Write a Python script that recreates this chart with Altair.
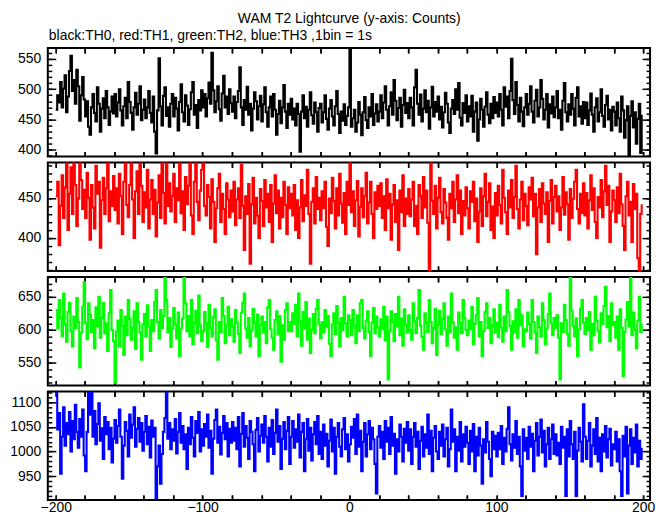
import math
import altair as alt
import pandas as pd

T_START = -200

# TH0 counts per 1 s bin, t = -200 ... 199
th0 = [
    466, 490, 478, 512, 470, 501, 523, 462, 488, 530, 555, 497, 515, 476, 532, 505, 448, 490, 520, 483,
    455, 480, 438, 425, 470, 492, 461, 447, 503, 476, 430, 468, 485, 452, 497, 470, 441, 463, 488, 460,
    492, 455, 478, 500, 465, 440, 472, 486, 452, 512, 479, 461, 433, 470, 494, 458, 476, 505, 449, 466,
    483, 452, 470, 497, 461, 445, 488, 430, 394, 465, 551, 472, 440, 489, 503, 456, 470, 438, 476, 492,
    455, 486, 468, 432, 479, 508, 462, 447, 490, 473, 441, 467, 495, 512, 458, 474, 436, 482, 465, 498,
    470, 492, 455, 485, 511, 476, 560, 498, 462, 480, 505, 467, 448, 493, 522, 470, 488, 459, 500, 477,
    463, 488, 452, 479, 497, 536, 470, 441, 482, 466, 504, 458, 476, 432, 468, 495, 480, 450, 472, 489,
    447, 475, 503, 462, 438, 470, 488, 455, 492, 466, 425, 459, 481, 444, 470, 507, 463, 436, 476, 458,
    484, 450, 468, 440, 476, 459, 397, 463, 490, 452, 471, 438, 466, 495, 457, 443, 478, 462, 430, 469,
    476, 445, 462, 490, 451, 433, 468, 482, 455, 440, 472, 497, 459, 428, 463, 448, 475, 441, 456, 470,
    700, 438, 452, 466, 430, 445, 479, 458, 424, 462, 487, 449, 436, 470, 455, 492, 441, 460, 475, 447,
    463, 490, 452, 478, 505, 466, 440, 472, 495, 458, 515, 481, 449, 469, 486, 438, 474, 499, 461, 477,
    452, 486, 470, 440, 503, 532, 476, 458, 491, 447, 468, 498, 462, 481, 435, 470, 504, 455, 479, 463,
    488, 450, 471, 437, 462, 494, 476, 445, 428, 468, 482, 459, 500, 466, 510, 453, 440, 477, 461, 490,
    447, 472, 455, 489, 430, 463, 478, 415, 450, 484, 466, 438, 471, 495, 458, 444, 476, 452, 487, 461,
    478, 455, 492, 466, 440, 503, 471, 488, 452, 497, 550, 482, 459, 512, 474, 447, 486, 463, 439, 470,
    492, 458, 476, 505, 463, 445, 481, 499, 455, 470, 515, 484, 450, 466, 492, 437, 475, 460, 488, 454,
    470, 497, 452, 466, 433, 481, 510, 462, 447, 475, 458, 492, 468, 440, 486, 503, 455, 472, 443, 479,
    452, 478, 441, 465, 493, 458, 430, 470, 485, 447, 462, 500, 456, 438, 474, 489, 450, 466, 432, 471,
    463, 440, 478, 452, 430, 488, 465, 420, 449, 472, 388, 456, 480, 437, 462, 410, 451, 476, 395, 458,
]

# TH1
th1 = [
    452, 470, 391, 440, 478, 425, 463, 494, 410, 455, 488, 430, 494, 466, 415, 449, 494, 472, 436, 460,
    425, 481, 450, 398, 466, 438, 412, 490, 455, 470, 388, 447, 475, 430, 462, 494, 421, 458, 440, 477,
    435, 462, 418, 480, 452, 405, 470, 494, 441, 426, 466, 494, 448, 400, 458, 483, 430, 494, 465, 420,
    457, 438, 485, 412, 448, 472, 430, 460, 402, 444, 478, 425, 494, 456, 418, 494, 440, 468, 433, 452,
    480, 420, 462, 447, 494, 431, 458, 410, 476, 442, 465, 494, 428, 405, 470, 494, 445, 422, 459, 485,
    494, 440, 428, 466, 451, 412, 473, 445, 395, 437, 462, 480, 420, 455, 436, 405, 468, 448, 426, 459,
    433, 470, 416, 448, 462, 425, 491, 440, 385, 452, 430, 467, 368, 442, 475, 418, 450, 428, 400, 461,
    446, 415, 472, 438, 455, 420, 466, 395, 443, 478, 431, 459, 412, 450, 426, 470, 441, 405, 463, 437,
    455, 428, 466, 410, 447, 400, 438, 472, 421, 453, 440, 485, 430, 368, 445, 462, 418, 476, 436, 450,
    422, 458, 437, 470, 414, 390, 449, 431, 475, 446, 412, 462, 428, 480, 443, 419, 456, 405, 470, 441,
    494, 432, 458, 415, 447, 471, 402, 439, 462, 426, 452, 481, 418, 444, 470, 430, 400, 457, 436, 465,
    440, 468, 425, 452, 410, 473, 437, 455, 398, 442, 466, 420, 447, 385, 459, 432, 478, 415, 449, 430,
    461, 427, 448, 470, 415, 440, 405, 466, 452, 425, 476, 438, 459, 419, 359, 494, 446, 430, 465, 412,
    450, 475, 432, 418, 461, 444, 425, 398, 455, 437, 470, 420, 448, 478, 431, 459, 405, 446, 428, 463,
    437, 412, 458, 445, 470, 421, 449, 395, 433, 462, 415, 452, 480, 427, 445, 468, 410, 439, 400, 456,
    428, 465, 441, 418, 485, 450, 432, 405, 459, 438, 472, 425, 451, 490, 436, 412, 448, 470, 422, 455,
    440, 416, 463, 448, 475, 427, 455, 380, 438, 461, 420, 468, 443, 430, 457, 395, 446, 472, 418, 451,
    465, 433, 452, 410, 438, 476, 429, 457, 442, 398, 461, 425, 449, 470, 485, 436, 418, 455, 431, 468,
    428, 456, 412, 447, 478, 435, 462, 420, 400, 451, 438, 472, 426, 458, 490, 441, 465, 395, 433, 459,
    447, 420, 463, 431, 480, 442, 415, 385, 452, 470, 428, 445, 395, 467, 436, 455, 375, 359, 430, 442,
]

# TH2
th2 = [
    630, 602, 645, 618, 590, 655, 608, 582, 627, 641, 598, 575, 620, 603, 648, 612, 543, 596, 635, 672,
    610, 586, 640, 623, 597, 615, 572, 634, 605, 650, 588, 618, 641, 595, 610, 568, 625, 660, 600, 583,
    520, 598, 614, 575, 630, 606, 562, 620, 592, 645, 617, 585, 603, 628, 571, 640, 612, 596, 555, 608,
    624, 590, 637, 605, 568, 615, 598, 642, 660, 612, 587, 630, 603, 621, 680, 645, 596, 618, 574, 602,
    633, 608, 587, 626, 560, 602, 617, 680, 640, 598, 621, 590, 645, 578, 611, 629, 595, 652, 606, 583,
    598, 627, 610, 574, 638, 603, 590, 619, 631, 584, 555, 612, 596, 648, 621, 580, 607, 635, 592, 616,
    605, 582, 630, 611, 594, 565, 626, 641, 655, 602, 588, 618, 575, 599, 632, 610, 590, 623, 560, 607,
    620, 596, 612, 580, 634, 645, 601, 588, 570, 615, 628, 593, 621, 552, 607, 585, 630, 640, 598, 612,
    598, 625, 609, 638, 590, 655, 613, 576, 627, 602, 642, 585, 617, 565, 600, 624, 595, 632, 645, 608,
    587, 612, 596, 630, 604, 621, 579, 560, 608, 625, 594, 636, 611, 575, 618, 599, 650, 610, 590, 622,
    615, 592, 630, 606, 580, 622, 598, 640, 645, 603, 587, 614, 628, 597, 560, 611, 633, 595, 620, 604,
    590, 616, 601, 635, 584, 620, 525, 598, 628, 612, 583, 624, 605, 650, 592, 617, 576, 631, 608, 596,
    622, 600, 585, 640, 613, 595, 618, 660, 606, 589, 570, 625, 610, 597, 645, 612, 580, 603, 632, 562,
    608, 629, 594, 616, 640, 601, 576, 620, 597, 655, 612, 588, 604, 570, 626, 611, 595, 645, 618, 600,
    592, 614, 601, 635, 578, 609, 622, 648, 590, 612, 560, 598, 627, 640, 603, 618, 580, 606, 631, 596,
    611, 589, 638, 604, 582, 620, 598, 660, 627, 606, 570, 613, 596, 631, 588, 645, 607, 622, 575, 601,
    598, 626, 609, 587, 645, 612, 596, 565, 620, 604, 590, 640, 615, 578, 602, 624, 655, 610, 592, 618,
    603, 622, 588, 525, 610, 597, 638, 615, 594, 576, 680, 629, 606, 590, 617, 560, 601, 632, 645, 611,
    594, 618, 600, 627, 570, 609, 592, 650, 614, 598, 581, 625, 609, 636, 665, 604, 621, 583, 640, 607,
    612, 588, 620, 570, 631, 603, 530, 597, 616, 642, 605, 680, 592, 626, 600, 572, 614, 650, 597, 610,
]

# TH3
th3 = [
    1120, 1045, 1078, 955, 1030, 1090, 1012, 1058, 1035, 1080, 1000, 1062, 1025, 1095, 1040, 1008, 1066, 1030, 1085, 992,
    960, 1040, 1120, 1075, 1120, 1030, 1082, 1015, 1056, 1098, 1022, 1047, 985, 1070, 1035, 1060, 1005, 1048, 978, 1026,
    1064, 1018, 1052, 1085, 1030, 945, 1012, 1060, 1042, 990, 1075, 1028, 1055, 1090, 1010, 1046, 1068, 1020, 1058, 1002,
    1040, 1072, 1015, 1050, 988, 1063, 1030, 1048, 905, 970, 1012, 935, 995, 1040, 1068, 1120, 1026, 1058, 1005, 1045,
    1022, 1066, 996, 1040, 1078, 1018, 1052, 1005, 1035, 965, 1048, 1015, 1070, 1028, 990, 1062, 1038, 1080, 1000, 1045,
    1012, 1056, 1030, 1075, 1008, 1042, 955, 1026, 1064, 1085, 1018, 1050, 994, 1038, 1072, 1025, 1058, 990, 1046, 1018,
    1060, 1022, 1048, 1005, 1070, 970, 1036, 1078, 1010, 1052, 1028, 985, 1062, 1040, 1015, 960, 1044, 1068, 1000, 1032,
    1055, 1018, 1072, 1030, 980, 1048, 1010, 1064, 995, 1038, 1085, 1020, 1052, 965, 1026, 1060, 1005, 1042, 1070, 975,
    1030, 1062, 1008, 1045, 1020, 1075, 988, 1040, 1058, 960, 1025, 1066, 1002, 1048, 982, 1035, 1060, 1015, 1072, 995,
    1040, 985, 1055, 1012, 1036, 970, 1022, 1065, 1000, 1048, 955, 1030, 1058, 1010, 990, 1045, 1068, 1005, 1035, 980,
    1015, 1050, 1028, 1066, 995, 1075, 1010, 1042, 960, 1020, 1058, 990, 1035, 1062, 1005, 1048, 1025, 975, 915, 1030,
    1052, 1008, 1040, 985, 1062, 1020, 1048, 995, 1070, 1012, 1036, 955, 1025, 1000, 1055, 1030, 980, 1046, 1018, 1060,
    1002, 1045, 975, 1030, 1058, 1010, 1040, 965, 1022, 1050, 990, 1035, 1008, 1075, 995, 1042, 960, 1028, 1052, 1000,
    985, 1040, 1012, 1055, 990, 1025, 1048, 970, 1005, 1085, 1020, 1045, 960, 1030, 1002, 1060, 980, 1035, 1010, 1050,
    1018, 975, 1042, 1000, 1056, 960, 1030, 992, 1048, 1012, 935, 1025, 998, 1060, 1020, 985, 950, 1040, 1005, 1032,
    990, 1038, 1005, 1052, 975, 1028, 1000, 1046, 1090, 1015, 982, 1035, 1008, 1062, 995, 1030, 970, 910, 1045, 1002,
    1028, 985, 1050, 1010, 1036, 960, 1022, 1058, 992, 1030, 1065, 998, 1042, 970, 1015, 1048, 985, 1025, 1055, 995,
    1035, 992, 1018, 975, 1050, 1008, 1030, 910, 1045, 990, 1062, 1015, 985, 1040, 910, 1002, 1048, 1020, 980, 1096,
    1030, 985, 1022, 1058, 970, 1012, 1045, 995, 1068, 980, 1028, 960, 1035, 1000, 1052, 988, 1025, 1046, 972, 1015,
    1005, 1040, 980, 1025, 960, 910, 1032, 990, 1050, 915, 1012, 1045, 975, 1028, 998, 1055, 970, 1022, 985, 1008,
]

MAIN_TITLE = "WAM T2 Lightcurve (y-axis: Counts)"
SUB_TITLE = "black:TH0, red:TH1, green:TH2, blue:TH3 ,1bin = 1s"

X_DOMAIN = [-205.4, 204.7]
X_LABELS = [-200, -100, 0, 100, 200]
X_TICKS = list(range(-200, 201, 20))

panel_colors = ["#000000", "#ff0000", "#00ff00", "#0000ff"]
panel_series = [th0, th1, th2, th3]
panel_domains = [[389, 568], [359, 494], [516, 680], [902, 1122]]
panel_major = [[400, 450, 500, 550], [400, 450], [550, 600, 650], [950, 1000, 1050, 1100]]

FONT = "Liberation Sans"
PANEL_W = 605
PANEL_H = 109


def make_panel(vals, color, ydom, ymajor, first, last):
    df = pd.DataFrame({"t": list(range(T_START, T_START + len(vals))), "c": vals})
    xs = alt.Scale(domain=X_DOMAIN, nice=False, zero=False)
    ys = alt.Scale(domain=ydom, nice=False, zero=False)
    yminor = list(range(int(math.ceil(ydom[0] / 10.0)) * 10, ydom[1] + 1, 10))

    if last:
        xaxis = alt.Axis(orient="bottom", values=X_LABELS, ticks=False, domain=False,
                         grid=False, title=None, labelPadding=1, format="d")
    else:
        xaxis = None

    line = alt.Chart(df).mark_line(
        interpolate="step-after", color=color, strokeWidth=2.1, clip=True
    ).encode(
        x=alt.X("t:Q", scale=xs, axis=xaxis),
        y=alt.Y("c:Q", scale=ys, axis=alt.Axis(
            orient="left", values=ymajor, ticks=False, domain=False,
            grid=False, title=None, labelPadding=7, format="d")),
    )

    dummy = pd.DataFrame({"t": [0], "c": [ydom[0]]})

    def tick_layer(xo, yo, yvals, ysize):
        return alt.Chart(dummy).mark_point(opacity=0).encode(
            x=alt.X("t:Q", scale=xs, axis=alt.Axis(
                orient=xo, values=X_TICKS, labels=False, domain=False,
                grid=False, title=None, tickSize=5, offset=-5,
                tickWidth=1.5, tickColor="black")),
            y=alt.Y("c:Q", scale=ys, axis=alt.Axis(
                orient=yo, values=yvals, labels=False, domain=False,
                grid=False, title=None, tickSize=ysize, offset=-ysize,
                tickWidth=1.5, tickColor="black")),
        )

    layered = alt.layer(
        line,
        tick_layer("bottom", "left", ymajor, 8),
        tick_layer("top", "right", ymajor, 8),
        tick_layer("bottom", "left", yminor, 4),
        tick_layer("top", "right", yminor, 4),
    ).resolve_axis(x="independent", y="independent").properties(
        width=PANEL_W, height=PANEL_H
    )
    if first:
        layered = layered.properties(title=alt.TitleParams(
            SUB_TITLE, anchor="start", frame="group", fontSize=14, fontWeight="normal",
            font=FONT, color="black", offset=4, dx=1))
    return layered


panels = []
for i in range(4):
    panels.append(make_panel(panel_series[i], panel_colors[i], panel_domains[i],
                             panel_major[i], i == 0, i == 3))

chart = alt.vconcat(*panels, spacing=0).properties(
    title=alt.TitleParams(MAIN_TITLE, anchor="middle", fontSize=14, dx=17,
                          fontWeight="normal", font=FONT, color="black", offset=2),
    padding={"left": 0, "top": 3, "right": 5, "bottom": 0},
).configure_view(
    stroke="black", strokeWidth=2
).configure_axis(
    labelFont=FONT, labelFontSize=14, labelColor="black"
).configure_title(
    font=FONT, fontSize=14, fontWeight="normal", color="black"
)

chart.save("out.html", embed_options={"renderer": "svg", "actions": False})
